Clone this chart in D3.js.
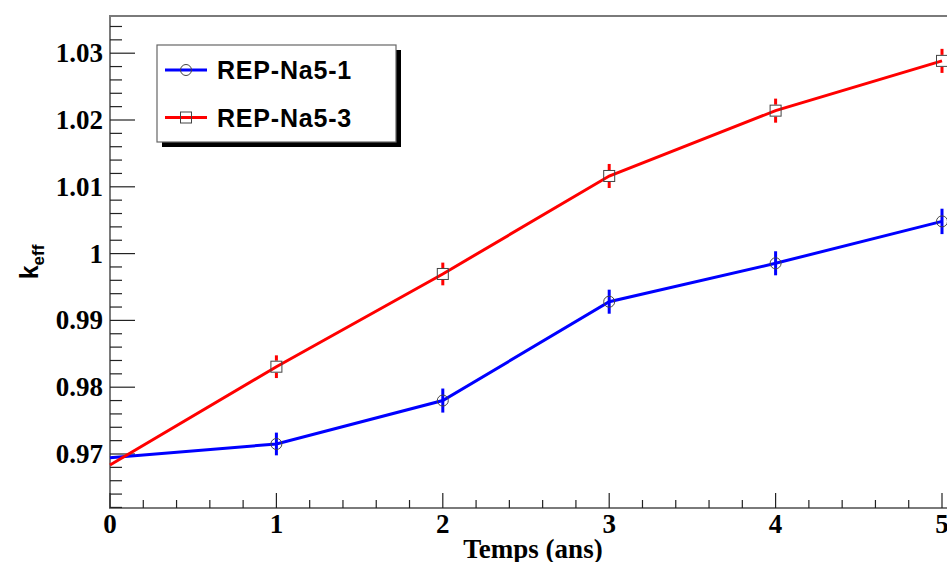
<!DOCTYPE html>
<html><head><meta charset="utf-8">
<script src="https://cdn.jsdelivr.net/npm/d3@7"></script>
<style>body{margin:0;background:#fff}svg{display:block}</style>
</head><body>
<script>
const years = [0, 1, 2, 3, 4, 5];
const seriesNames = ["REP-Na5-1", "REP-Na5-3"];
const keffNa51 = [0.96945, 0.9715, 0.9780, 0.9928, 0.99855, 1.00482];
const errNa51 = [0, 0.0017, 0.0018, 0.0018, 0.0018, 0.0019];
const keffNa53 = [0.96835, 0.98307, 0.99695, 1.01162, 1.02140, 1.02885];
const errNa53 = [0, 0.0017, 0.0017, 0.0018, 0.0018, 0.0018];
const yTickLabels = ["0.97", "0.98", "0.99", "1", "1.01", "1.02", "1.03"];
const xTickLabels = ["0", "1", "2", "3", "4", "5"];

const W = 947, H = 562;
const svg = d3.select("body").append("svg").attr("width", W).attr("height", H);
const L = 110, R = 956, T = 16, B = 508;
const x = d3.scaleLinear().domain([0, 5]).range([110, 942]);
const y = d3.scaleLinear().domain([0.961916, 1.035569]).range([B, T]);

// frame
svg.append("rect").attr("x", L).attr("y", T).attr("width", R - L).attr("height", B - T)
  .attr("fill", "none").attr("stroke", "#7a7a7a").attr("stroke-width", 2);

// y ticks
const yMinor = d3.range(0.962, 1.0356, 0.002);
const g = svg.append("g");
yMinor.forEach(v => {
  const major = Math.abs(Math.round(v * 100) - v * 100) < 1e-6;
  g.append("line").attr("x1", L).attr("x2", L + (major ? 25 : 12))
    .attr("y1", y(v)).attr("y2", y(v)).attr("stroke", "#222").attr("stroke-width", 1.2);
});
yTickLabels.forEach(t => {
  g.append("text").attr("x", 103).attr("y", y(+t) + 9).attr("text-anchor", "end")
    .attr("font-family", "Liberation Serif, Times New Roman, serif").attr("font-weight", "bold")
    .attr("font-size", 27).text(t);
});
// x ticks
d3.range(0, 26).forEach(i => {
  const v = i * 0.2;
  const major = i % 5 === 0;
  const px = x(v);
  if (px > R) return;
  g.append("line").attr("x1", px).attr("x2", px).attr("y1", B).attr("y2", B - (major ? 15 : 8))
    .attr("stroke", "#222").attr("stroke-width", 1.2);
});
xTickLabels.forEach(t => {
  g.append("text").attr("x", x(+t)).attr("y", 533).attr("text-anchor", "middle")
    .attr("font-family", "Liberation Serif, Times New Roman, serif").attr("font-weight", "bold")
    .attr("font-size", 27).text(t);
});

// axis titles
svg.append("text").attr("x", 533).attr("y", 558).attr("text-anchor", "middle")
  .attr("font-family", "Liberation Serif, Times New Roman, serif").attr("font-weight", "bold")
  .attr("font-size", 27).text("Temps (ans)");
const yt = svg.append("text").attr("transform", "translate(38,262) rotate(-90)")
  .attr("text-anchor", "middle")
  .attr("font-family", "Liberation Sans, Arial, sans-serif").attr("font-weight", "bold")
  .attr("font-size", 25);
yt.append("tspan").text("k");
yt.append("tspan").attr("font-size", 17).attr("dy", 6).text("eff");

// series
const series = [
  {vals: keffNa51, errs: errNa51, color: "#0000ff", marker: "circle", gap: false},
  {vals: keffNa53, errs: errNa53, color: "#ff0000", marker: "square", gap: true}
];
const line = d3.line().x((d, i) => x(years[i])).y(d => y(d));
series.forEach(s => {
  svg.append("path").datum(s.vals).attr("d", line).attr("fill", "none")
    .attr("stroke", s.color).attr("stroke-width", 3);
  s.vals.forEach((v, i) => {
    const px = x(years[i]), py = y(v);
    const e = s.errs[i];
    if (e > 0) {
      const top = y(v + e), bot = y(v - e);
      if (s.gap) {
        svg.append("line").attr("x1", px).attr("x2", px).attr("y1", top).attr("y2", py - 6)
          .attr("stroke", s.color).attr("stroke-width", 3);
        svg.append("line").attr("x1", px).attr("x2", px).attr("y1", py + 6).attr("y2", bot)
          .attr("stroke", s.color).attr("stroke-width", 3);
      } else {
        svg.append("line").attr("x1", px).attr("x2", px).attr("y1", top).attr("y2", bot)
          .attr("stroke", s.color).attr("stroke-width", 3);
      }
    }
    // markers lying on the frame edge are clipped away (as in the reference)
    if (px - 6 < L) return;
    if (s.marker === "circle") {
      svg.append("circle").attr("cx", px).attr("cy", py).attr("r", 5.5)
        .attr("fill", "none").attr("stroke", "#444").attr("stroke-width", 1);
    } else {
      svg.append("rect").attr("x", px - 5.5).attr("y", py - 5.5).attr("width", 11).attr("height", 11)
        .attr("fill", "none").attr("stroke", "#444").attr("stroke-width", 1);
    }
  });
});

// legend
const lg = svg.append("g");
lg.append("rect").attr("x", 162).attr("y", 50).attr("width", 239).attr("height", 97).attr("fill", "#000");
lg.append("rect").attr("x", 157).attr("y", 45).attr("width", 239).attr("height", 97)
  .attr("fill", "#fff").attr("stroke", "#666").attr("stroke-width", 1.2);
[70, 117.5].forEach((ly, i) => {
  const s = series[i];
  lg.append("line").attr("x1", 165).attr("x2", 207).attr("y1", ly).attr("y2", ly)
    .attr("stroke", s.color).attr("stroke-width", 3);
  if (s.marker === "circle") {
    lg.append("circle").attr("cx", 186).attr("cy", ly).attr("r", 5.5)
      .attr("fill", "none").attr("stroke", "#444").attr("stroke-width", 1);
  } else {
    lg.append("rect").attr("x", 180.5).attr("y", ly - 5.5).attr("width", 11).attr("height", 11)
      .attr("fill", "none").attr("stroke", "#444").attr("stroke-width", 1);
  }
  lg.append("text").attr("x", 217).attr("y", ly + 9).attr("font-family", "Liberation Sans, Arial, sans-serif")
    .attr("font-weight", "bold").attr("font-size", 25).attr("letter-spacing", 0.8).text(seriesNames[i]);
});
</script>
</body></html>
